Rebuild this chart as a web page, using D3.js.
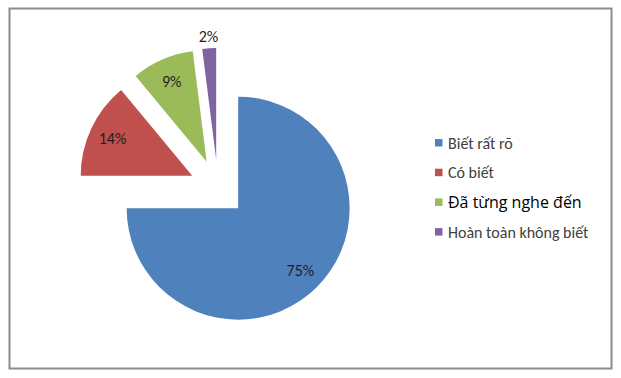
<!DOCTYPE html>
<html>
<head>
<meta charset="utf-8">
<script src="https://cdn.jsdelivr.net/npm/d3@7"></script>
<style>
  body { margin: 0; background: #fff; }
  text { font-family: Carlito, "Open Sans", "Noto Sans", sans-serif; }
</style>
</head>
<body>
<script>
// data
let categories = ["Biết rất rõ", "Có biết", "Đã từng nghe đến", "Hoàn toàn không biết"];
let values = [75, 14, 9, 2];
let colors = ["#4F81BD", "#C0504D", "#9BBB59", "#8064A2"];

let width = 621, height = 378;

let svg = d3.select("body")
    .append("svg")
    .attr("width", width)
    .attr("height", height);

// chart frame
svg.append("rect")
    .attr("x", 9.5)
    .attr("y", 8.5)
    .attr("width", 602)
    .attr("height", 360)
    .attr("fill", "#fff")
    .attr("stroke", "#8c8c8c")
    .attr("stroke-width", 2);

let cx = 218, cy = 188, radius = 111.5, explode = 28.5;

let pie = d3.pie().sort(null).value(d => d);
let arcs = pie(values);
let arc = d3.arc().innerRadius(0).outerRadius(radius);

let g = svg.append("g")
    .attr("transform", "translate(" + cx + "," + cy + ")");

function offset(d, r) {
    let a = (d.startAngle + d.endAngle) / 2;
    return [Math.sin(a) * r, -Math.cos(a) * r];
}

let slice = g.selectAll("g.slice")
    .data(arcs)
    .enter()
    .append("g")
    .attr("class", "slice")
    .attr("transform", function(d) {
        let o = offset(d, explode);
        return "translate(" + o[0] + "," + o[1] + ")";
    });

slice.append("path")
    .attr("d", arc)
    .attr("fill", (d, i) => colors[i]);

// percentage labels
slice.append("text")
    .attr("transform", function(d) {
        let o = offset(d, d.data < 5 ? radius * 1.11 : radius * 0.79);
        return "translate(" + o[0] + "," + o[1] + ")";
    })
    .attr("text-anchor", "middle")
    .attr("dy", "0.35em")
    .attr("font-size", 16)
    .attr("fill", "#1f1f1f")
    .text(d => d.data + "%");

// legend
let legend = svg.append("g")
    .attr("transform", "translate(435,143)");

let item = legend.selectAll("g")
    .data(categories)
    .enter()
    .append("g")
    .attr("transform", (d, i) => "translate(0," + i * 29.7 + ")");

item.append("rect")
    .attr("x", 0)
    .attr("y", -4)
    .attr("width", 7.5)
    .attr("height", 7.5)
    .attr("fill", (d, i) => colors[i]);

// the third entry is drawn in a different (wider, darker) face in the original
item.append("text")
    .attr("x", 13)
    .attr("dy", "0.35em")
    .attr("font-size", 16)
    .style("font-family", (d, i) => i == 2 ? "'Open Sans', sans-serif" : null)
    .attr("fill", (d, i) => i == 2 ? "#000" : "#404040")
    .text(d => d);
</script>
</body>
</html>
